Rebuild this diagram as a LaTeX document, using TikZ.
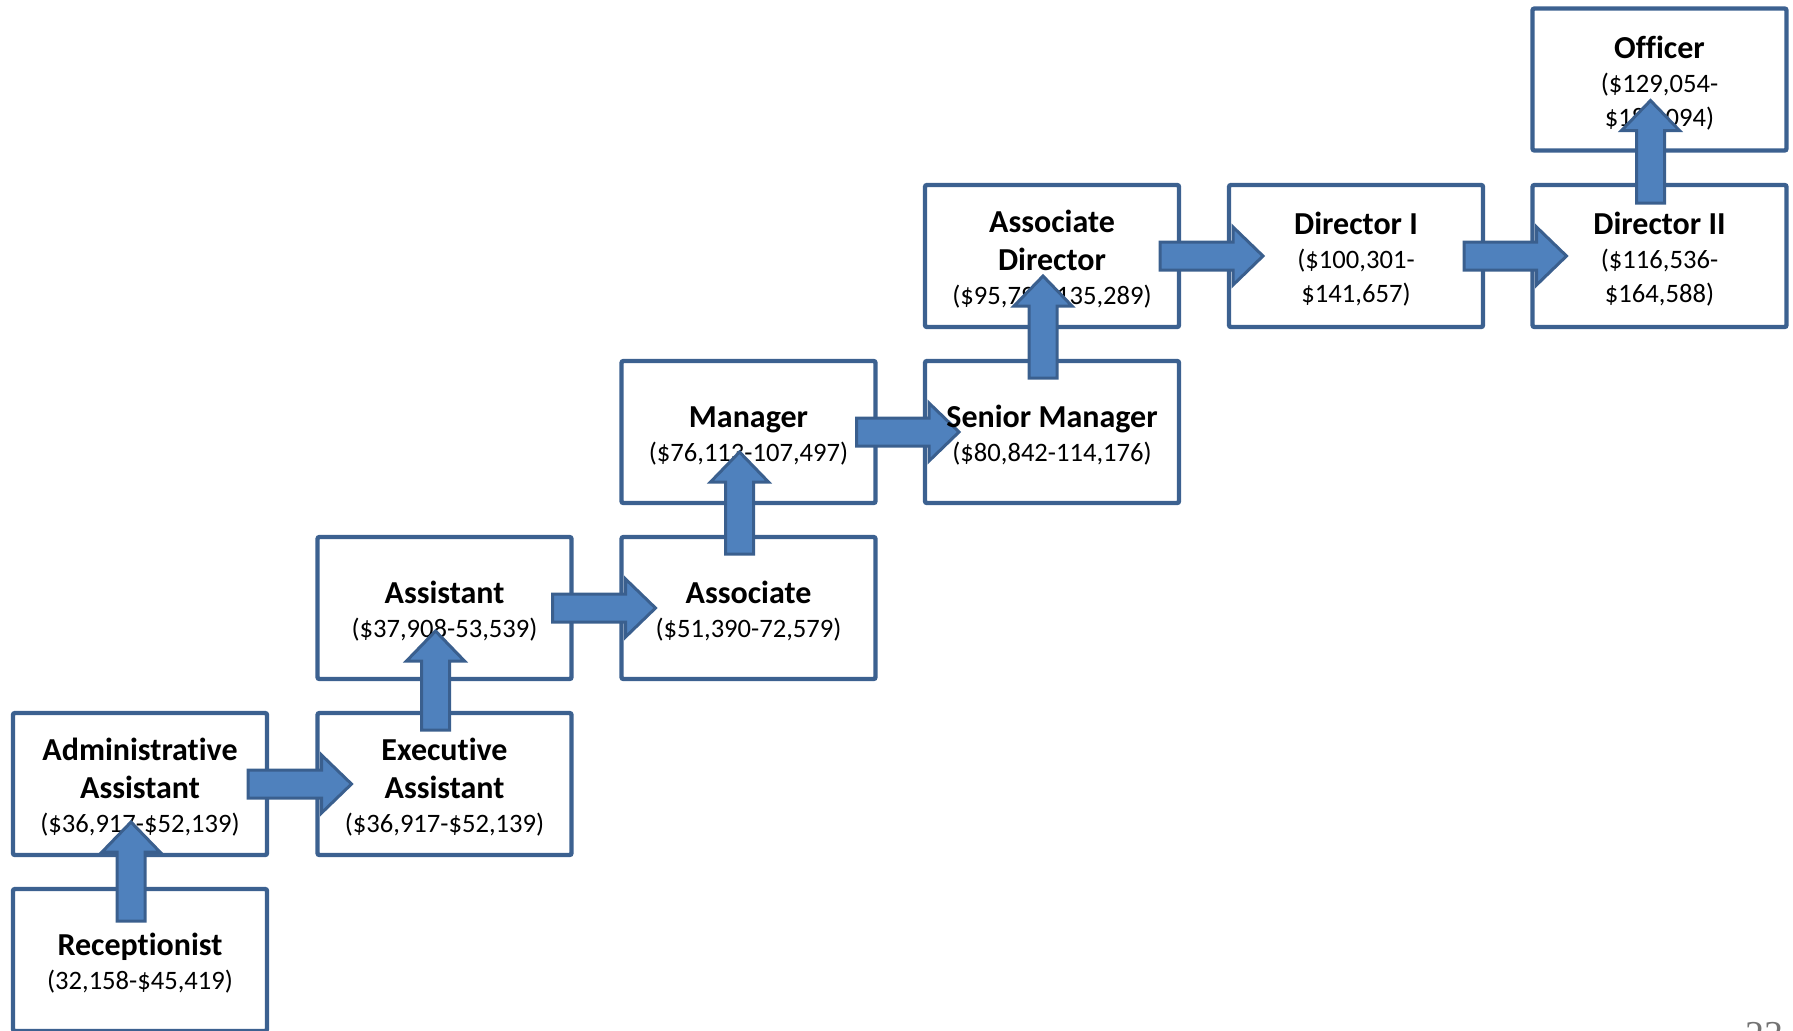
\documentclass[tikz,border=0pt]{standalone}
\usepackage{fontspec}
\setmainfont{Carlito}[Ligatures=NoCommon]
\newfontfamily\pagefont{Liberation Serif}
\usetikzlibrary{calc,backgrounds}
\definecolor{boxline}{HTML}{3C6190}
\definecolor{arrowfill}{HTML}{4F81BD}
\definecolor{arrowline}{HTML}{3A5F8E}
\tikzset{
  job/.style={minimum width=127pt, minimum height=71pt, inner sep=1pt, outer sep=0pt,
    yshift=-1.75pt, align=center, font=\fontsize{16}{17}\selectfont\bfseries},
  jobbox/.style={draw=boxline, line width=2.2pt, rounded corners=1pt},
  blockarrow/.style={draw=arrowline, fill=arrowfill, line width=1.5pt, line join=miter}
}
\newcommand\pay[1]{{\fontsize{13.3}{16}\selectfont\mdseries #1}}
% fat arrow to the right, from inside box #1 into box #2
\def\rarrow(#1)(#2){\draw[blockarrow] let \p1=($(#1.east)+(-19,-3.5)$), \p2=($(#2.west)+(34,-3.5)$) in
  (\x1,\y1+7pt) -- (\x2-15pt,\y1+7pt) -- (\x2-15pt,\y1+14.5pt) -- (\x2,\y1)
  -- (\x2-15pt,\y1-14.5pt) -- (\x2-15pt,\y1-7pt) -- (\x1,\y1-7pt) -- cycle;}
% fat arrow upwards, from inside box #1 into box #2
\def\uarrow(#1)(#2)(#3:#4){\draw[blockarrow] let \p1=($(#1.north)+(-9,#3-3.5)$), \p2=($(#2.south)+(-9,-#4-3.5)$) in
  (\x1-7pt,\y1) -- (\x1-7pt,\y2-15pt) -- (\x1-14.5pt,\y2-15pt) -- (\x1,\y2)
  -- (\x1+14.5pt,\y2-15pt) -- (\x1+7pt,\y2-15pt) -- (\x1+7pt,\y1) -- cycle;}
\begin{document}
\begin{tikzpicture}[x=0.5pt,y=-0.5pt]
	%%%%% START %%%%%
	\useasboundingbox (0,0) rectangle (1793,1030);
	
	\node[job] (rec) at (140, 960) {Receptionist\\\pay{(32,158-\$45,419)}};
	\node[job] (adm) at (140, 784) {Administrative\\[2pt]Assistant\\\pay{(\$36,917-\$52,139)}};
	\node[job] (exe) at (444.5, 784) {Executive\\[2pt]Assistant\\\pay{(\$36,917-\$52,139)}};
	\node[job] (ast) at (444.5, 608) {Assistant\\\pay{(\$37,908-53,539)}};
	\node[job] (aso) at (748.5, 608) {Associate\\\pay{(\$51,390-72,579)}};
	\node[job] (mgr) at (748.5, 432) {Manager\\\pay{(\$76,113-107,497)}};
	\node[job] (smg) at (1052, 432) {Senior Manager\\\pay{(\$80,842-114,176)}};
	\node[job] (adr) at (1052, 256) {Associate\\[2pt]Director\\\pay{(\$95,798-135,289)}};
	\node[job] (dr1) at (1356, 256) {Director I\\\pay{(\$100,301-}\\\pay{\$141,657)}};
	\node[job] (dr2) at (1659.5, 256) {Director II\\\pay{(\$116,536-}\\\pay{\$164,588)}};
	\node[job] (ofc) at (1659.5, 79.5) {Officer\\\pay{(\$129,054-}\\\pay{\$182,094)}};
	
	\begin{pgfonlayer}{background}
		\foreach \n in {rec,adm,exe,ast,aso,mgr,smg,adr,dr1,dr2,ofc}
			\draw[jobbox] ([yshift=1.75pt]\n.south west) rectangle ([yshift=1.75pt]\n.north east);
		
		\rarrow(adm)(exe)
		\rarrow(ast)(aso)
		\rarrow(mgr)(smg)
		\rarrow(adr)(dr1)
		\rarrow(dr1)(dr2)
	\end{pgfonlayer}
	
	\uarrow(rec)(adm)(32:33)
	\uarrow(exe)(ast)(17:48)
	\uarrow(aso)(mgr)(17:51)
	\uarrow(smg)(adr)(17:51)
	\uarrow(dr2)(ofc)(18:50)
	
	\node[anchor=north, inner sep=0pt, text=black!55, font=\pagefont\fontsize{19}{19}\selectfont] (pg) at (1764, 1022) {23};
	%%%%% END %%%%%
\end{tikzpicture}
\end{document}
